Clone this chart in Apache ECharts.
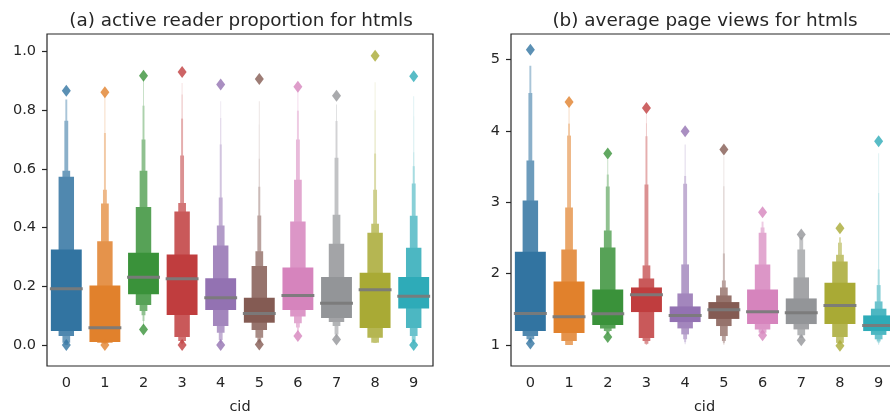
<!DOCTYPE html>
<html>
<head>
<meta charset="utf-8">
<script src="https://cdn.jsdelivr.net/npm/echarts@6/dist/echarts.min.js"></script>
<style>
  html, body { margin: 0; padding: 0; background: #fff; }
  #chart { width: 890px; height: 416px; }
</style>
</head>
<body>
<div id="chart"></div>
<script>
// categories and colours (seaborn tab10, desaturated)
var cids = ['0', '1', '2', '3', '4', '5', '6', '7', '8', '9'];
var palette = ['#3274a1', '#e1812c', '#3a923a', '#c03d3e', '#9372b2',
               '#845b53', '#d684bd', '#939598', '#a9aa35', '#2eabb8'];

// (a) active reader proportion: letter values, innermost (IQR) first
var medA = [0.192, 0.059, 0.231, 0.226, 0.161, 0.107, 0.169, 0.142, 0.188, 0.166];
var upA = [
  [0.325, 0.573, 0.593, 0.764, 0.836],
  [0.203, 0.353, 0.482, 0.529, 0.722, 0.850],
  [0.314, 0.470, 0.593, 0.700, 0.815, 0.905],
  [0.308, 0.455, 0.484, 0.645, 0.771, 0.853, 0.892],
  [0.227, 0.339, 0.407, 0.502, 0.683, 0.773, 0.830],
  [0.161, 0.269, 0.319, 0.441, 0.539, 0.634, 0.751, 0.830],
  [0.264, 0.421, 0.563, 0.700, 0.798, 0.870],
  [0.232, 0.345, 0.444, 0.638, 0.763, 0.819],
  [0.246, 0.382, 0.413, 0.529, 0.652, 0.799, 0.895],
  [0.232, 0.331, 0.440, 0.550, 0.609, 0.656, 0.779, 0.847]
];
var loA = [
  [0.048, 0.031, 0.008, 0.001, 0.000],
  [0.010, 0.008, 0.007, 0.006, 0.004, 0.002],
  [0.173, 0.136, 0.116, 0.101, 0.082, 0.065],
  [0.102, 0.027, 0.014, 0.008, 0.004, 0.002, 0.001],
  [0.119, 0.065, 0.042, 0.017, 0.008, 0.004, 0.002],
  [0.076, 0.051, 0.025, 0.010, 0.006, 0.004, 0.002, 0.001],
  [0.119, 0.097, 0.074, 0.060, 0.045, 0.035],
  [0.092, 0.078, 0.065, 0.036, 0.028, 0.022],
  [0.058, 0.025, 0.008, 0.008, 0.007, 0.007, 0.006],
  [0.124, 0.058, 0.031, 0.014, 0.008, 0.005, 0.003, 0.002]
];
var outHiA = [0.866, 0.861, 0.917, 0.930, 0.887, 0.906, 0.879, 0.849, 0.985, 0.915];
var outLoA = [0.000, 0.000, 0.053, 0.000, 0.000, 0.002, 0.031, 0.019, null, 0.000];
var ticksA = [0, 0.2, 0.4, 0.6, 0.8, 1.0];

// (b) average page views
var medB = [1.443, 1.397, 1.439, 1.705, 1.415, 1.495, 1.467, 1.453, 1.555, 1.275];
var upB = [
  [2.307, 3.026, 3.586, 4.533, 4.916],
  [1.891, 2.340, 2.928, 3.936, 4.104, 4.350],
  [1.779, 2.368, 2.606, 3.222, 3.390, 3.600],
  [1.807, 1.933, 2.116, 3.250, 3.927, 4.110, 4.250],
  [1.541, 1.723, 2.130, 3.260, 3.370, 3.810],
  [1.602, 1.695, 1.807, 1.905, 2.284, 3.226, 3.646],
  [1.779, 2.130, 2.573, 2.648, 2.730],
  [1.653, 1.948, 2.340, 2.510],
  [1.873, 2.172, 2.265, 2.435, 2.510],
  [1.415, 1.509, 1.611, 1.840, 2.060, 3.130, 3.690]
];
var loB = [
  [1.196, 1.126, 1.080, 1.050, 1.030],
  [1.168, 1.056, 1.002, 1.001, 1.000, 1.000],
  [1.280, 1.233, 1.196, 1.175, 1.150, 1.130],
  [1.462, 1.098, 1.056, 1.019, 1.010, 1.005, 1.000],
  [1.322, 1.233, 1.149, 1.080, 1.040, 1.010],
  [1.366, 1.266, 1.126, 1.056, 1.030, 1.010, 1.000],
  [1.294, 1.219, 1.173, 1.160, 1.150],
  [1.294, 1.219, 1.136, 1.100],
  [1.294, 1.113, 1.030, 1.020, 1.010],
  [1.196, 1.142, 1.080, 1.050, 1.030, 1.010, 1.000]
];
var outHiB = [5.14, 4.407, 3.684, 4.323, 3.997, 3.74, 2.862, 2.55, 2.638, 3.857];
var outLoB = [1.02, null, 1.112, null, null, null, 1.136, 1.066, 0.99, null];
var ticksB = [1, 2, 3, 4, 5];

function lighten(hex, t) {
  var r = parseInt(hex.slice(1, 3), 16), g = parseInt(hex.slice(3, 5), 16), b = parseInt(hex.slice(5, 7), 16);
  r = Math.round(r + (255 - r) * t); g = Math.round(g + (255 - g) * t); b = Math.round(b + (255 - b) * t);
  return 'rgb(' + r + ',' + g + ',' + b + ')';
}

function boxenRender(up, lo, med) {
  return function (params, api) {
    var i = params.dataIndex;
    var cx = api.coord([i, med[i]])[0];
    var full = api.size([1, 0])[0] * 0.8;
    var children = [];
    // narrowest (outermost) first, IQR box last
    for (var j = up[i].length - 1; j >= 0; j--) {
      var w = Math.max(full * Math.pow(0.5, j), 1);
      var top = api.coord([i, up[i][j]])[1];
      var bot = api.coord([i, lo[i][j]])[1];
      children.push({
        type: 'rect',
        shape: { x: cx - w / 2, y: top, width: w, height: bot - top },
        style: { fill: lighten(palette[i], Math.min(0.85, 0.145 * j)) }
      });
    }
    var my = api.coord([i, med[i]])[1];
    children.push({
      type: 'line',
      shape: { x1: cx - full / 2 - 1, y1: my, x2: cx + full / 2 + 1, y2: my },
      style: { stroke: 'rgba(122,122,122,0.95)', lineWidth: 3 }
    });
    return { type: 'group', children: children };
  };
}

function outliers(hi, lo) {
  var pts = [];
  for (var i = 0; i < cids.length; i++) {
    if (hi[i] != null) pts.push({ value: [i, hi[i]], itemStyle: { color: palette[i] } });
    if (lo[i] != null) pts.push({ value: [i, lo[i]], itemStyle: { color: palette[i] } });
  }
  return pts;
}

var txt = '#262626';
var font = 'DejaVu Sans';

function xAxis(idx) {
  return {
    type: 'category', gridIndex: idx, data: cids,
    name: 'cid', nameLocation: 'middle', nameGap: 34,
    nameTextStyle: { color: txt, fontFamily: font, fontSize: 14.5 },
    axisLine: { show: false },
    axisTick: { alignWithLabel: true, length: 5, lineStyle: { color: txt, width: 1.2 } },
    axisLabel: { color: txt, fontFamily: font, fontSize: 14.5, margin: 10 },
    splitLine: { show: false }
  };
}
function yAxis(idx, min, max, ticks, fmt) {
  return {
    type: 'value', gridIndex: idx, min: min, max: max,
    axisLine: { show: false },
    axisTick: { show: true, length: 5, customValues: ticks, lineStyle: { color: txt, width: 1.2 } },
    axisLabel: { color: txt, fontFamily: font, fontSize: 14.5, margin: 11, customValues: ticks,
                 formatter: fmt },
    splitLine: { show: false }
  };
}

var chart = echarts.init(document.getElementById('chart'), null, { renderer: 'canvas' });
chart.setOption({
  animation: false,
  backgroundColor: '#fff',
  title: [
    { text: '(a) active reader proportion for htmls', left: 236, top: 7, textAlign: 'center',
      textStyle: { color: txt, fontFamily: font, fontSize: 18.4, fontWeight: 'normal' } },
    { text: '(b) average page views for htmls', left: 700, top: 7, textAlign: 'center',
      textStyle: { color: txt, fontFamily: font, fontSize: 18.4, fontWeight: 'normal' } }
  ],
  grid: [
    { left: 47, top: 34, width: 386, height: 332, show: true, borderColor: txt, borderWidth: 1.2,
      outerBoundsMode: 'none', containLabel: false },
    { left: 511, top: 34, width: 387, height: 332, show: true, borderColor: txt, borderWidth: 1.2,
      outerBoundsMode: 'none', containLabel: false }
  ],
  xAxis: [xAxis(0), xAxis(1)],
  yAxis: [
    yAxis(0, -0.0714, 1.059, ticksA, function (v) { return v.toFixed(1); }),
    yAxis(1, 0.706, 5.36, ticksB, function (v) { return String(Math.round(v)); })
  ],
  series: [
    { type: 'custom', xAxisIndex: 0, yAxisIndex: 0, renderItem: boxenRender(upA, loA, medA),
      data: cids.map(function (c, i) { return [i, medA[i]]; }), encode: { x: 0, y: 1 }, z: 2 },
    { type: 'custom', xAxisIndex: 1, yAxisIndex: 1, renderItem: boxenRender(upB, loB, medB),
      data: cids.map(function (c, i) { return [i, medB[i]]; }), encode: { x: 0, y: 1 }, z: 2 },
    { type: 'scatter', xAxisIndex: 0, yAxisIndex: 0, symbol: 'diamond', symbolSize: [9, 12],
      data: outliers(outHiA, outLoA), z: 3 },
    { type: 'scatter', xAxisIndex: 1, yAxisIndex: 1, symbol: 'diamond', symbolSize: [9, 12],
      data: outliers(outHiB, outLoB), z: 3 }
  ]
});
</script>
</body>
</html>
